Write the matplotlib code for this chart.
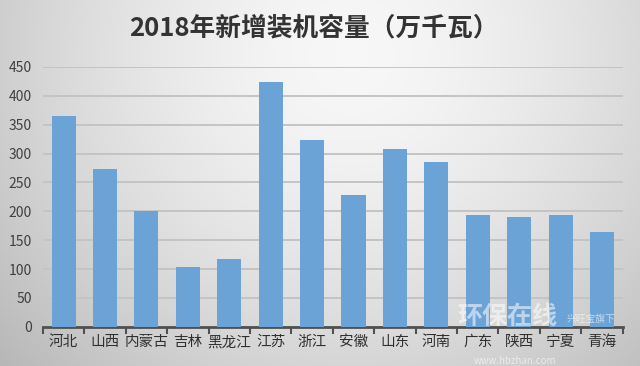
import numpy as np
import matplotlib
matplotlib.use("Agg")
import matplotlib.pyplot as plt

plt.rcParams['font.family'] = ['Noto Sans CJK SC', 'DejaVu Sans']

#data
provinces = ["河北", "山西", "内蒙古", "吉林", "黑龙江", "江苏", "浙江",
             "安徽", "山东", "河南", "广东", "陕西", "宁夏", "青海"]
capacity = [365, 273, 200, 104, 118, 424, 323, 228, 308, 286, 194, 190, 194, 164]
yticks = list(range(0, 451, 50))

fig = plt.figure(figsize=(6.4, 3.66), dpi=100)

#grey-to-white background, lighter toward the upper middle
bg = fig.add_axes([0, 0, 1, 1], zorder=-10)
gx, gy = np.meshgrid(np.linspace(0, 1, 320), np.linspace(0, 1, 183))
d = np.sqrt(((gx - 0.55) / 0.75)**2 + ((gy - 0.15) / 1.3)**2)
shade = np.clip(0.97 - 0.26 * d**1.6, 0.72, 0.97)
bg.imshow(np.dstack([shade, shade, shade]), aspect='auto', extent=[0, 1, 0, 1], origin='upper')
bg.axis('off')

ax = fig.add_axes([0.067, 0.107, 0.906, 0.71])
ax.patch.set_alpha(0)
x = np.arange(len(provinces))
ax.bar(x, capacity, width=0.58, color='#6ca3d6', zorder=3)

ax.set_ylim(0, 450)
ax.set_xlim(-0.5, len(provinces) - 0.5)
ax.set_yticks(yticks)
ax.yaxis.grid(True, color='#c4c4c4', linewidth=1.4, zorder=0)
ax.tick_params(axis='y', length=0, labelsize=10, labelcolor='#404040', pad=8)

ax.set_xticks(x)
ax.set_xticklabels(provinces, fontsize=10.5, color='#303030')
ax.tick_params(axis='x', length=0, pad=6)
ax.set_xticks(np.arange(-0.5, len(provinces)), minor=True)
ax.tick_params(axis='x', which='minor', length=5, width=1.5, color='#505050', direction='out')

for s in ['top', 'right', 'left']:
    ax.spines[s].set_visible(False)
ax.spines['bottom'].set_color('#505050')
ax.spines['bottom'].set_linewidth(2)

fig.text(0.49, 0.925, "2018年新增装机容量（万千瓦）", ha='center', va='center',
         fontsize=18.5, fontweight='bold', color='#333333')

#faint watermark
fig.text(0.715, 0.115, "环保在线", fontsize=18, color='white', alpha=0.55, fontweight='bold')
fig.text(0.885, 0.12, "兴旺宝旗下", fontsize=7, color='white', alpha=0.6)
fig.text(0.74, 0.005, "www.hbzhan.com", fontsize=7, color='white', alpha=0.6)

fig.savefig("out.png", dpi=100)
